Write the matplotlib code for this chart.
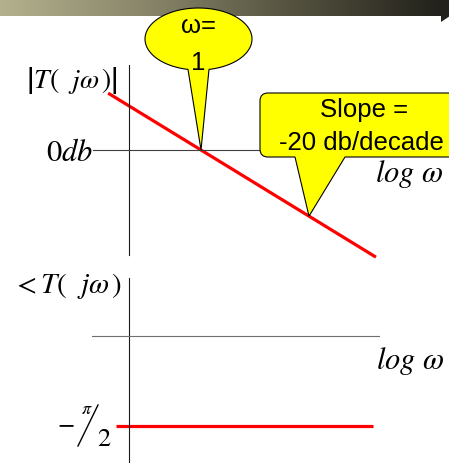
import matplotlib
matplotlib.use("Agg")
import matplotlib.pyplot as plt
import numpy as np
from matplotlib.path import Path
from matplotlib.patches import PathPatch, Polygon
from matplotlib.colors import LinearSegmentedColormap

# asymptotic Bode plot of T(jw) = 1/(jw)
mag_logw = [-1.29, 2.43]
mag_db = [25.8, -48.6]
phase_logw = [-1.18, 2.39]
phase_rad = [-np.pi / 2, -np.pi / 2]
cross_logw, cross_db = 0.0, 0.0          # omega = 1
slope_logw, slope_db = 1.5, -30.0        # where the slope callout points

W, H = 449, 463
PX_DEC = 72.0      # pixels per decade
PX_DB = 44.1 / 20  # pixels per dB
PX_RAD = 57.3      # pixels per radian
X0 = 201           # pixel column of log w = 0

plt.rcParams['mathtext.fontset'] = 'stix'
fig = plt.figure(figsize=(W / 100, H / 100), dpi=100)


def make_axes(top, bottom, y0, scale, vbounds, hbounds):
    ax = fig.add_axes([0, 1 - bottom / H, 1, (bottom - top) / H])
    ax.set_xlim(-X0 / PX_DEC, (W - X0) / PX_DEC)
    ax.set_ylim((y0 - bottom) / scale, (y0 - top) / scale)
    ax.patch.set_visible(False)
    for s in ['top', 'right']:
        ax.spines[s].set_visible(False)
    ax.spines['left'].set_position(('data', -1))
    ax.spines['left'].set_bounds(*vbounds)
    ax.spines['left'].set_color('#1a1a1a')
    ax.spines['left'].set_linewidth(0.8)
    ax.spines['bottom'].set_position(('data', 0))
    ax.spines['bottom'].set_bounds(*hbounds)
    ax.spines['bottom'].set_linewidth(0.8)
    ax.set_xticks([])
    ax.set_yticks([])
    return ax


ax1 = make_axes(55, 265, 150, PX_DB, (-47.6, 38.5), (-1.5, 2.47))
ax1.spines['bottom'].set_color('#404040')
ax1.plot(mag_logw, mag_db, color='#ff0000', lw=2.3, solid_capstyle='butt', clip_on=False)

ax2 = make_axes(270, 463, 336, PX_RAD, (-2.3, 1.012), (-1.51, 2.47))
ax2.spines['bottom'].set_color('#707070')
ax2.plot(phase_logw, phase_rad, color='#ff0000', lw=2.3, solid_capstyle='butt', clip_on=False)

# overlay in pixel coordinates for the slide decorations
ov = fig.add_axes([0, 0, 1, 1], zorder=10)
ov.axis('off')


def to_px(ax, x, y):
    disp = ax.transData.transform((x, y))
    return ov.transData.inverted().transform(disp)


# title bar gradient with arrow
cmap = LinearSegmentedColormap.from_list('bar', ['#b3b18d', '#88856a', '#54523f', '#22211b'])
ov.imshow(np.linspace(0, 1, 256)[None, :], cmap=cmap, aspect='auto',
          extent=(0, 441, 16, 0), zorder=1)
ov.add_patch(Polygon([(441, -6), (441, 22), (462, 8)], closed=True,
                     facecolor='#22211b', edgecolor='none', zorder=1))
ov.set_xlim(0, W)
ov.set_ylim(H, 0)

# callout "omega = 1"
tip = to_px(ax1, cross_logw, cross_db)
cx, cy, a, b = 198.5, 39, 53.5, 31
t_r = np.arccos((209 - cx) / a)
t_l = np.arccos((188 - cx) / a)
t = np.linspace(t_r, t_l - 2 * np.pi, 120)
pts = np.column_stack([cx + a * np.cos(t), cy + b * np.sin(t)])
pts = np.vstack([pts, tip, pts[0]])
ov.add_patch(Polygon(pts, closed=True, facecolor='#ffff00', edgecolor='black',
                     lw=0.8, zorder=3))
ov.text(cx, 33, 'ω=', ha='center', va='baseline', fontsize=18.5,
        family='Liberation Sans', zorder=4)
ov.text(cx, 70, '1', ha='center', va='baseline', fontsize=18.5,
        family='Liberation Sans', zorder=4)

# callout "Slope"
tip2 = to_px(ax1, slope_logw, slope_db)
x0, x1, y0, y1, r = 260, W + 10, 93, 157, 8
verts = [(295, y1), tuple(tip2), (345, y1), (x1, y1), (x1, y0), (x0 + r, y0),
         (x0, y0), (x0, y0 + r), (x0, y1 - r), (x0, y1), (x0 + r, y1), (295, y1)]
codes = [Path.MOVETO, Path.LINETO, Path.LINETO, Path.LINETO, Path.LINETO, Path.LINETO,
         Path.CURVE3, Path.CURVE3, Path.LINETO, Path.CURVE3, Path.CURVE3, Path.CLOSEPOLY]
ov.add_patch(PathPatch(Path(verts, codes), facecolor='#ffff00', edgecolor='black',
                       lw=0.8, zorder=3))
ov.text(364, 117, 'Slope =', ha='center', va='baseline', fontsize=18.5,
        family='Liberation Sans', zorder=4)
ov.text(279, 150, '-20 db/decade', ha='left', va='baseline', fontsize=18.5,
        family='Liberation Sans', zorder=4)

# axis labels
ov.text(26, 88, r'$\left|T(\ \ j\omega\,)\right|$', ha='left', va='baseline', fontsize=20)
ov.text(93, 161, r'$0db$', ha='right', va='baseline', fontsize=22)
ov.text(375, 182, r'$log\ \omega$', ha='left', va='baseline', fontsize=22)
ov.text(12, 293, r'$<T(\ \ j\omega\,)$', ha='left', va='baseline', fontsize=21)
ov.text(376, 369, r'$log\ \omega$', ha='left', va='baseline', fontsize=22)
# -pi/2 written as a slanted fraction
ov.text(66, 423, r'$-$', ha='center', va='center', fontsize=18)
ov.text(87, 409, r'$\pi$', ha='center', va='center', fontsize=13)
ov.plot([78, 98], [446, 405], color='black', lw=1.0)
ov.text(104.5, 439, r'$2$', ha='center', va='center', fontsize=19)
ov.set_xlim(0, W)
ov.set_ylim(H, 0)

fig.savefig('out.png', dpi=100)
